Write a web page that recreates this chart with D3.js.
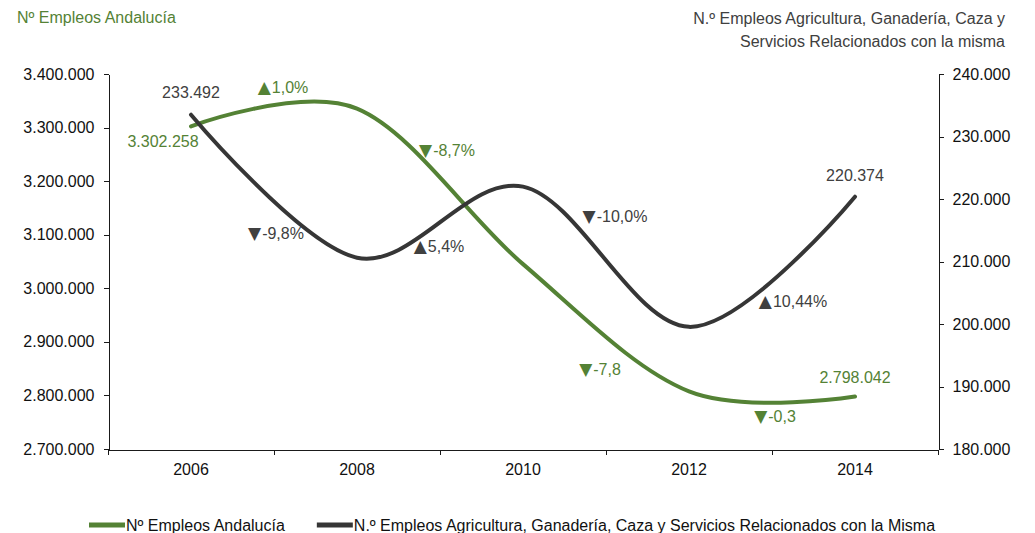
<!DOCTYPE html>
<html>
<head>
<meta charset="utf-8">
<script src="https://cdn.jsdelivr.net/npm/d3@7"></script>
<style>
  html, body { margin: 0; padding: 0; background: #fff; }
  svg { display: block; font-family: "Liberation Sans", Arial, sans-serif; }
</style>
</head>
<body>
<svg id="chart" width="1035" height="533"></svg>
<script>
// ---------- DATA ----------
const years = ["2006", "2008", "2010", "2012", "2014"];
const empleosAndalucia = [3302258, 3335281, 3045111, 2807592, 2798042];
const empleosAgricultura = [233492, 210610, 221983, 199542, 220374];
const andaluciaChangeLabels = ["1,0%", "-8,7%", "-7,8", "-0,3"];
const agriculturaChangeLabels = ["-9,8%", "5,4%", "-10,0%", "10,44%"];
const leftTicks = [2700000, 2800000, 2900000, 3000000, 3100000, 3200000, 3300000, 3400000];
const rightTicks = [180000, 190000, 200000, 210000, 220000, 230000, 240000];
const seriesNames = ["Nº Empleos Andalucía", "N.º Empleos Agricultura, Ganadería, Caza y Servicios Relacionados con la Misma"];
const leftTitle = "Nº Empleos Andalucía";
const rightTitle = ["N.º Empleos Agricultura, Ganadería, Caza y", "Servicios Relacionados con la misma"];

// ---------- LAYOUT / STYLE ----------
const W = 1035, H = 533;
const plot = { left: 108, right: 938, top: 74, bottom: 449 };
const GREEN = "#548235", DARK = "#363636", TEXT = "#404040", AXIS = "#1a1a1a";
const FONT = 16;
// label offsets (px) relative to midpoint between consecutive points
const greenOffsets = [[9, -30], [7, -36], [-6, 42], [3, 22]];
const darkOffsets = [[2, 47], [-1, 24], [9, -40], [21, 40]];

const es = d3.formatLocale({ decimal: ",", thousands: ".", grouping: [3], currency: ["", "€"] });
const fmt = es.format(",.0f");

const svg = d3.select("#chart");

const x = d3.scaleBand().domain(years).range([plot.left, plot.right]);
const yL = d3.scaleLinear().domain([2700000, 3400000]).range([plot.bottom, plot.top]);
const yR = d3.scaleLinear().domain([180000, 240000]).range([plot.bottom, plot.top]);
const cx = d => x(d) + x.bandwidth() / 2;

// ---------- AXES ----------
const gL = svg.append("g").attr("transform", `translate(${plot.left + 0.5},0)`)
  .call(d3.axisLeft(yL).tickValues(leftTicks).tickFormat(fmt).tickSize(5).tickSizeOuter(0).tickPadding(9));
const gR = svg.append("g").attr("transform", `translate(${plot.right + 0.5},0)`)
  .call(d3.axisRight(yR).tickValues(rightTicks).tickFormat(fmt).tickSize(5).tickSizeOuter(0).tickPadding(9));
const gB = svg.append("g").attr("transform", `translate(0,${plot.bottom + 0.5})`)
  .call(d3.axisBottom(x).tickSize(0).tickSizeOuter(0).tickPadding(14));
// category boundary ticks
const bounds = years.map(d => x(d)).concat([x.range()[1]]);
gB.selectAll("line.bt").data(bounds).enter().append("line").attr("class", "bt")
  .attr("x1", d => Math.round(d) + 0.5).attr("x2", d => Math.round(d) + 0.5)
  .attr("y1", 0).attr("y2", 5);

[gL, gR, gB].forEach(g => {
  g.selectAll("path.domain").attr("stroke", AXIS).attr("stroke-width", 1).attr("shape-rendering", "crispEdges");
  g.selectAll("line").attr("stroke", AXIS).attr("stroke-width", 1).attr("shape-rendering", "crispEdges");
  g.selectAll("text").attr("fill", "#111").style("font-size", FONT + "px").style("font-family", "Liberation Sans, Arial, sans-serif");
});

// ---------- LINES ----------
const curve = d3.curveCardinal.tension(0);
const lineL = d3.line().x((d, i) => cx(years[i])).y(d => yL(d)).curve(curve);
const lineR = d3.line().x((d, i) => cx(years[i])).y(d => yR(d)).curve(curve);

svg.append("path").datum(empleosAndalucia).attr("d", lineL)
  .attr("fill", "none").attr("stroke", GREEN).attr("stroke-width", 4).attr("stroke-linecap", "round");
svg.append("path").datum(empleosAgricultura).attr("d", lineR)
  .attr("fill", "none").attr("stroke", DARK).attr("stroke-width", 4).attr("stroke-linecap", "round");

// ---------- VALUE LABELS ----------
function txt(xp, yp, s, color, anchor) {
  return svg.append("text").attr("x", xp).attr("y", yp).attr("dy", "0.35em")
    .attr("text-anchor", anchor || "middle").attr("fill", color)
    .style("font-size", FONT + "px").text(s);
}
const n = years.length;
txt(cx(years[0]) - 28, yL(empleosAndalucia[0]) + 15, fmt(empleosAndalucia[0]), GREEN);
txt(cx(years[n - 1]), yL(empleosAndalucia[n - 1]) - 19, fmt(empleosAndalucia[n - 1]), GREEN);
txt(cx(years[0]), yR(empleosAgricultura[0]) - 22, fmt(empleosAgricultura[0]), TEXT);
txt(cx(years[n - 1]), yR(empleosAgricultura[n - 1]) - 21, fmt(empleosAgricultura[n - 1]), TEXT);

// ---------- CHANGE LABELS ----------
function changeLabels(values, labels, scale, offsets, color) {
  labels.forEach((lab, i) => {
    const mx = (cx(years[i]) + cx(years[i + 1])) / 2;
    const my = (scale(values[i]) + scale(values[i + 1])) / 2;
    const up = values[i + 1] >= values[i];
    const t = svg.append("text").attr("x", mx + offsets[i][0]).attr("y", my + offsets[i][1]).attr("dy", "0.35em")
      .attr("text-anchor", "middle").attr("fill", color).style("font-size", FONT + "px");
    t.append("tspan").style("font-family", "DejaVu Sans").style("font-size", "17px").text(up ? "▲" : "▼");
    t.append("tspan").attr("dx", 1).text(lab);
  });
}
changeLabels(empleosAndalucia, andaluciaChangeLabels, yL, greenOffsets, GREEN);
changeLabels(empleosAgricultura, agriculturaChangeLabels, yR, darkOffsets, TEXT);

// ---------- TITLES ----------
svg.append("text").attr("x", 17).attr("y", 23).attr("fill", GREEN)
  .style("font-size", FONT + "px").text(leftTitle);
svg.append("text").attr("text-anchor", "end").attr("fill", TEXT).style("font-size", FONT + "px")
  .selectAll("tspan").data(rightTitle).enter().append("tspan")
  .attr("x", 1005).attr("y", (d, i) => 24 + i * 23).text(d => d);

// ---------- LEGEND ----------
const lg = svg.append("g");
let lx = 89;
const ly = 525;
[GREEN, DARK].forEach((c, i) => {
  lg.append("line").attr("x1", lx).attr("x2", lx + 36).attr("y1", ly).attr("y2", ly)
    .attr("stroke", c).attr("stroke-width", 5);
  const t = lg.append("text").attr("x", lx + 37).attr("y", ly).attr("dy", "0.35em")
    .attr("fill", "#111").style("font-size", FONT + "px").text(seriesNames[i]);
  lx = lx + 37 + t.node().getComputedTextLength() + 32;
});
</script>
</body>
</html>
